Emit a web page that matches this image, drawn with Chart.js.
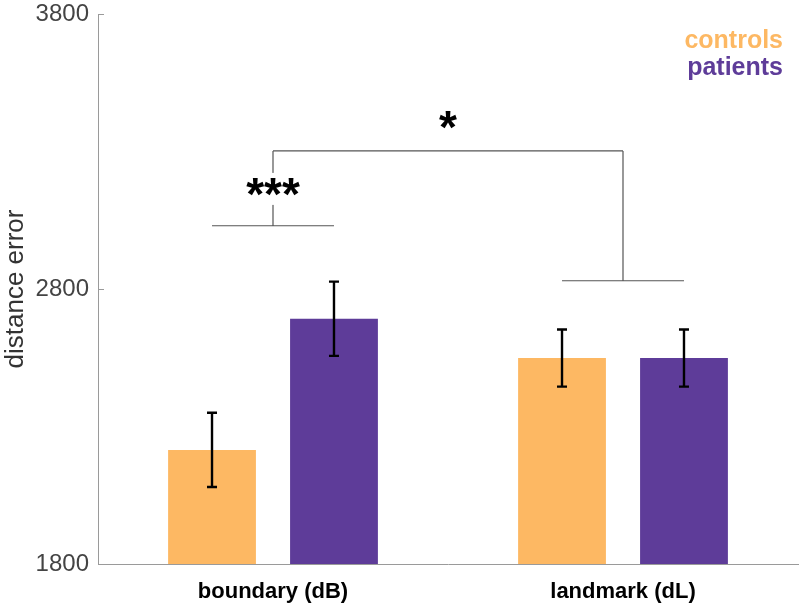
<!DOCTYPE html>
<html>
<head>
<meta charset="utf-8">
<script src="https://cdn.jsdelivr.net/npm/chart.js@4.4.0/dist/chart.umd.min.js"></script>
<style>
  html, body { margin: 0; padding: 0; background: #fff; }
  #wrap { width: 800px; height: 609px; }
</style>
</head>
<body>
<div id="wrap"><canvas id="chart"></canvas></div>
<script>
// data
var categories = ['boundary (dB)', 'landmark (dL)'];
var controlsMean = [2215, 2549];
var controlsErr = [135, 104];
var patientsMean = [2692, 2549];
var patientsErr = [135, 104];
var yTicks = [1800, 2800, 3800];

// significance brackets (in data units)
var withinY = [3030, 2830];       // controls vs patients, per category
var withinStars = ['***', ''];
var withinStarY = [3164, null];
var betweenY = 3302;              // boundary vs landmark
var betweenStars = '*';
var betweenStarY = 3406;

var orange = '#fdb863';
var purple = '#5e3c99';
var axisGrey = '#9a9a9a';

var errorBars = {
  id: 'errorBars',
  afterDatasetsDraw: function(chart) {
    var ctx = chart.ctx, y = chart.scales.y;
    var errs = [controlsErr, patientsErr];
    ctx.save();
    ctx.strokeStyle = '#000';
    ctx.lineWidth = 2.4;
    chart.data.datasets.forEach(function(ds, d) {
      chart.getDatasetMeta(d).data.forEach(function(bar, i) {
        var top = y.getPixelForValue(ds.data[i] + errs[d][i]);
        var bot = y.getPixelForValue(ds.data[i] - errs[d][i]);
        ctx.beginPath();
        ctx.moveTo(bar.x, top); ctx.lineTo(bar.x, bot);
        ctx.moveTo(bar.x - 5, top); ctx.lineTo(bar.x + 5, top);
        ctx.moveTo(bar.x - 5, bot); ctx.lineTo(bar.x + 5, bot);
        ctx.stroke();
      });
    });
    ctx.restore();
  }
};

var extras = {
  id: 'extras',
  afterDraw: function(chart) {
    var ctx = chart.ctx, y = chart.scales.y, x = chart.scales.x;
    var area = chart.chartArea;
    var m0 = chart.getDatasetMeta(0), m1 = chart.getDatasetMeta(1);
    ctx.save();

    // inward y ticks
    ctx.strokeStyle = axisGrey;
    ctx.lineWidth = 1;
    yTicks.forEach(function(v) {
      var py = Math.round(y.getPixelForValue(v)) + 0.5;
      ctx.beginPath();
      ctx.moveTo(area.left, py); ctx.lineTo(area.left + 6, py);
      ctx.stroke();
    });

    // brackets
    ctx.strokeStyle = '#555';
    ctx.lineWidth = 1.2;
    var topPx = y.getPixelForValue(betweenY);
    categories.forEach(function(c, i) {
      var py = y.getPixelForValue(withinY[i]);
      var cx = x.getPixelForValue(i);
      ctx.beginPath();
      ctx.moveTo(m0.data[i].x, py); ctx.lineTo(m1.data[i].x, py);
      ctx.moveTo(cx, py); ctx.lineTo(cx, topPx);
      ctx.stroke();
    });
    ctx.beginPath();
    ctx.moveTo(x.getPixelForValue(0), topPx);
    ctx.lineTo(x.getPixelForValue(1), topPx);
    ctx.stroke();

    // stars
    ctx.font = 'bold 46px "Liberation Sans", Arial, sans-serif';
    ctx.textAlign = 'center';
    ctx.textBaseline = 'alphabetic';
    categories.forEach(function(c, i) {
      if (!withinStars[i]) return;
      var cx = x.getPixelForValue(i);
      var cy = y.getPixelForValue(withinStarY[i]);
      var w = ctx.measureText(withinStars[i]).width;
      ctx.fillStyle = '#fff';
      ctx.fillRect(cx - w / 2, cy - 16, w, 32);
      ctx.fillStyle = '#000';
      ctx.fillText(withinStars[i], cx, cy + 21);
    });
    var bx = (x.getPixelForValue(0) + x.getPixelForValue(1)) / 2;
    ctx.fillStyle = '#000';
    ctx.fillText(betweenStars, bx, y.getPixelForValue(betweenStarY) + 21);

    // legend as coloured text
    ctx.font = 'bold 25px "Liberation Sans", Arial, sans-serif';
    ctx.textAlign = 'right';
    ctx.fillStyle = orange;
    ctx.fillText('controls', 783, 48);
    ctx.fillStyle = purple;
    ctx.fillText('patients', 783, 75);
    ctx.restore();
  }
};

new Chart(document.getElementById('chart'), {
  type: 'bar',
  data: {
    labels: categories,
    datasets: [
      { label: 'controls', data: controlsMean, backgroundColor: orange, borderWidth: 0 },
      { label: 'patients', data: patientsMean, backgroundColor: purple, borderWidth: 0 }
    ]
  },
  options: {
    responsive: true,
    maintainAspectRatio: false,
    animation: false,
    categoryPercentage: 0.697,
    barPercentage: 0.72,
    layout: { padding: { top: 14, right: 2, left: 0, bottom: 0 } },
    plugins: { legend: { display: false }, tooltip: { enabled: false } },
    scales: {
      x: {
        grid: { display: false, drawTicks: false },
        border: { display: true, color: axisGrey, width: 1 },
        ticks: {
          color: '#000',
          padding: 15,
          font: { family: '"Liberation Sans", Arial, sans-serif', size: 22, weight: 'bold' }
        },
        afterFit: function(s) { s.height = 45; s.paddingLeft = 0; s.paddingRight = 0; }
      },
      y: {
        min: 1800,
        max: 3800,
        afterBuildTicks: function(s) { s.ticks = yTicks.map(function(v) { return { value: v }; }); },
        grid: { display: false, drawTicks: false },
        border: { display: true, color: axisGrey, width: 1 },
        ticks: {
          color: '#444',
          padding: 9,
          callback: function(v) { return String(v); },
          font: { family: '"Liberation Sans", Arial, sans-serif', size: 24 }
        },
        title: {
          display: true,
          text: 'distance error',
          color: '#333',
          padding: { top: 0, bottom: 4 },
          font: { family: '"Liberation Sans", Arial, sans-serif', size: 26 }
        },
        afterFit: function(s) { s.width = 98; s.paddingTop = 0; s.paddingBottom = 0; }
      }
    }
  },
  plugins: [errorBars, extras]
});
</script>
</body>
</html>
